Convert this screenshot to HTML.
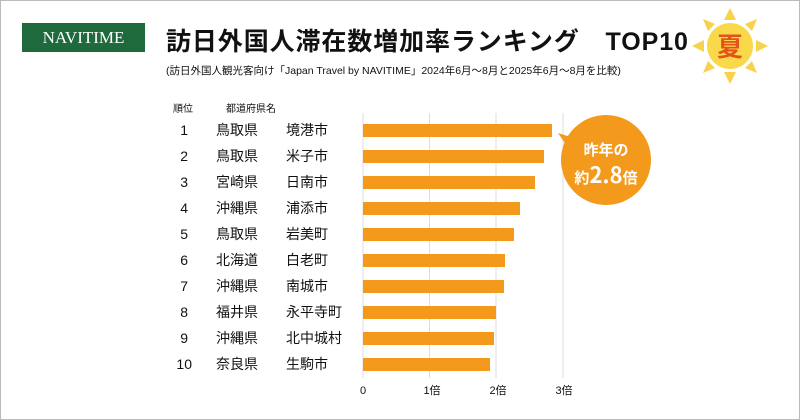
<!DOCTYPE html><html><head><meta charset="utf-8"><style>
body{margin:0;width:800px;height:420px;overflow:hidden;background:#fff;font-family:"Liberation Sans","Noto Sans CJK JP",sans-serif}
.t{position:absolute;white-space:nowrap;color:#111}
</style></head><body>
<div style="position:absolute;left:0;top:0;width:798px;height:418px;border:1px solid #bbb"></div>
<div style="position:absolute;left:22px;top:23px;width:123px;height:29px;background:#1e6a3c;color:#fff;font-family:'Liberation Serif',serif;font-size:17px;line-height:29px;text-align:center">NAVITIME</div>
<div class="t" style="left:166px;top:22px;font-size:25px;font-weight:bold;letter-spacing:0.9px">訪日外国人滞在数増加率ランキング　TOP10</div>
<div class="t" style="left:166px;top:63px;font-size:10.5px">(訪日外国人観光客向け「Japan Travel by NAVITIME」2024年6月～8月と2025年6月～8月を比較)</div>
<svg style="position:absolute;left:0;top:0" width="800" height="420">
<g fill="#f8d24a">
<polygon points="730,8 736,20 724,20"/><polygon points="730,84 736,72 724,72"/>
<polygon points="692,46 704,40 704,52"/><polygon points="768,46 756,40 756,52"/>
<polygon points="703,19 715,24 708,31"/><polygon points="757,19 745,24 752,31"/>
<polygon points="703,73 715,68 708,61"/><polygon points="757,73 745,68 752,61"/>
</g>
<circle cx="730" cy="46" r="23" fill="#f9d84a"/>
<text x="730" y="56" font-size="26" font-weight="bold" fill="#e2541b" text-anchor="middle" font-family="Noto Sans CJK JP">夏</text>
<g stroke="#ddd" stroke-width="1"><line x1="363" y1="113" x2="363" y2="378"/><line x1="429.5" y1="113" x2="429.5" y2="378"/><line x1="496" y1="113" x2="496" y2="378"/><line x1="563" y1="113" x2="563" y2="378"/></g>
<g fill="#f39a1c">
<rect x="363" y="124" width="189" height="13"/><rect x="363" y="150" width="181" height="13"/><rect x="363" y="176" width="172" height="13"/><rect x="363" y="202" width="157" height="13"/><rect x="363" y="228" width="151" height="13"/><rect x="363" y="254" width="142" height="13"/><rect x="363" y="280" width="141" height="13"/><rect x="363" y="306" width="133" height="13"/><rect x="363" y="332" width="131" height="13"/><rect x="363" y="358" width="127" height="13"/>
</g>
<polygon points="558,133 580,140 575,158" fill="#f39a1c"/>
<circle cx="606" cy="160" r="45" fill="#f39a1c"/>
<text x="606" y="155" font-size="15" font-weight="bold" fill="#fff" text-anchor="middle" font-family="Noto Sans CJK JP">昨年の</text>
<text x="606" y="183" font-weight="bold" fill="#fff" text-anchor="middle" font-family="Noto Sans CJK JP"><tspan font-size="15">約</tspan><tspan font-size="22">2.8</tspan><tspan font-size="15">倍</tspan></text>
<g font-size="11" fill="#111" text-anchor="middle" font-family="Liberation Sans,Noto Sans CJK JP"><text x="363" y="394">0</text><text x="432" y="394">1倍</text><text x="498" y="394">2倍</text><text x="564" y="394">3倍</text></g>
<g font-size="10" fill="#111" font-family="Noto Sans CJK JP"><text x="173" y="112">順位</text><text x="226" y="112">都道府県名</text></g>
<g font-size="14" fill="#111" font-family="Liberation Sans,Noto Sans CJK JP">
<text x="188" y="135" text-anchor="end">1</text><text x="216" y="135">鳥取県</text><text x="286" y="135">境港市</text>
<text x="188" y="161" text-anchor="end">2</text><text x="216" y="161">鳥取県</text><text x="286" y="161">米子市</text>
<text x="188" y="187" text-anchor="end">3</text><text x="216" y="187">宮崎県</text><text x="286" y="187">日南市</text>
<text x="188" y="213" text-anchor="end">4</text><text x="216" y="213">沖縄県</text><text x="286" y="213">浦添市</text>
<text x="188" y="239" text-anchor="end">5</text><text x="216" y="239">鳥取県</text><text x="286" y="239">岩美町</text>
<text x="188" y="265" text-anchor="end">6</text><text x="216" y="265">北海道</text><text x="286" y="265">白老町</text>
<text x="188" y="291" text-anchor="end">7</text><text x="216" y="291">沖縄県</text><text x="286" y="291">南城市</text>
<text x="188" y="317" text-anchor="end">8</text><text x="216" y="317">福井県</text><text x="286" y="317">永平寺町</text>
<text x="188" y="343" text-anchor="end">9</text><text x="216" y="343">沖縄県</text><text x="286" y="343">北中城村</text>
<text x="192" y="369" text-anchor="end">10</text><text x="216" y="369">奈良県</text><text x="286" y="369">生駒市</text>
</g>
</svg>
</body></html>
